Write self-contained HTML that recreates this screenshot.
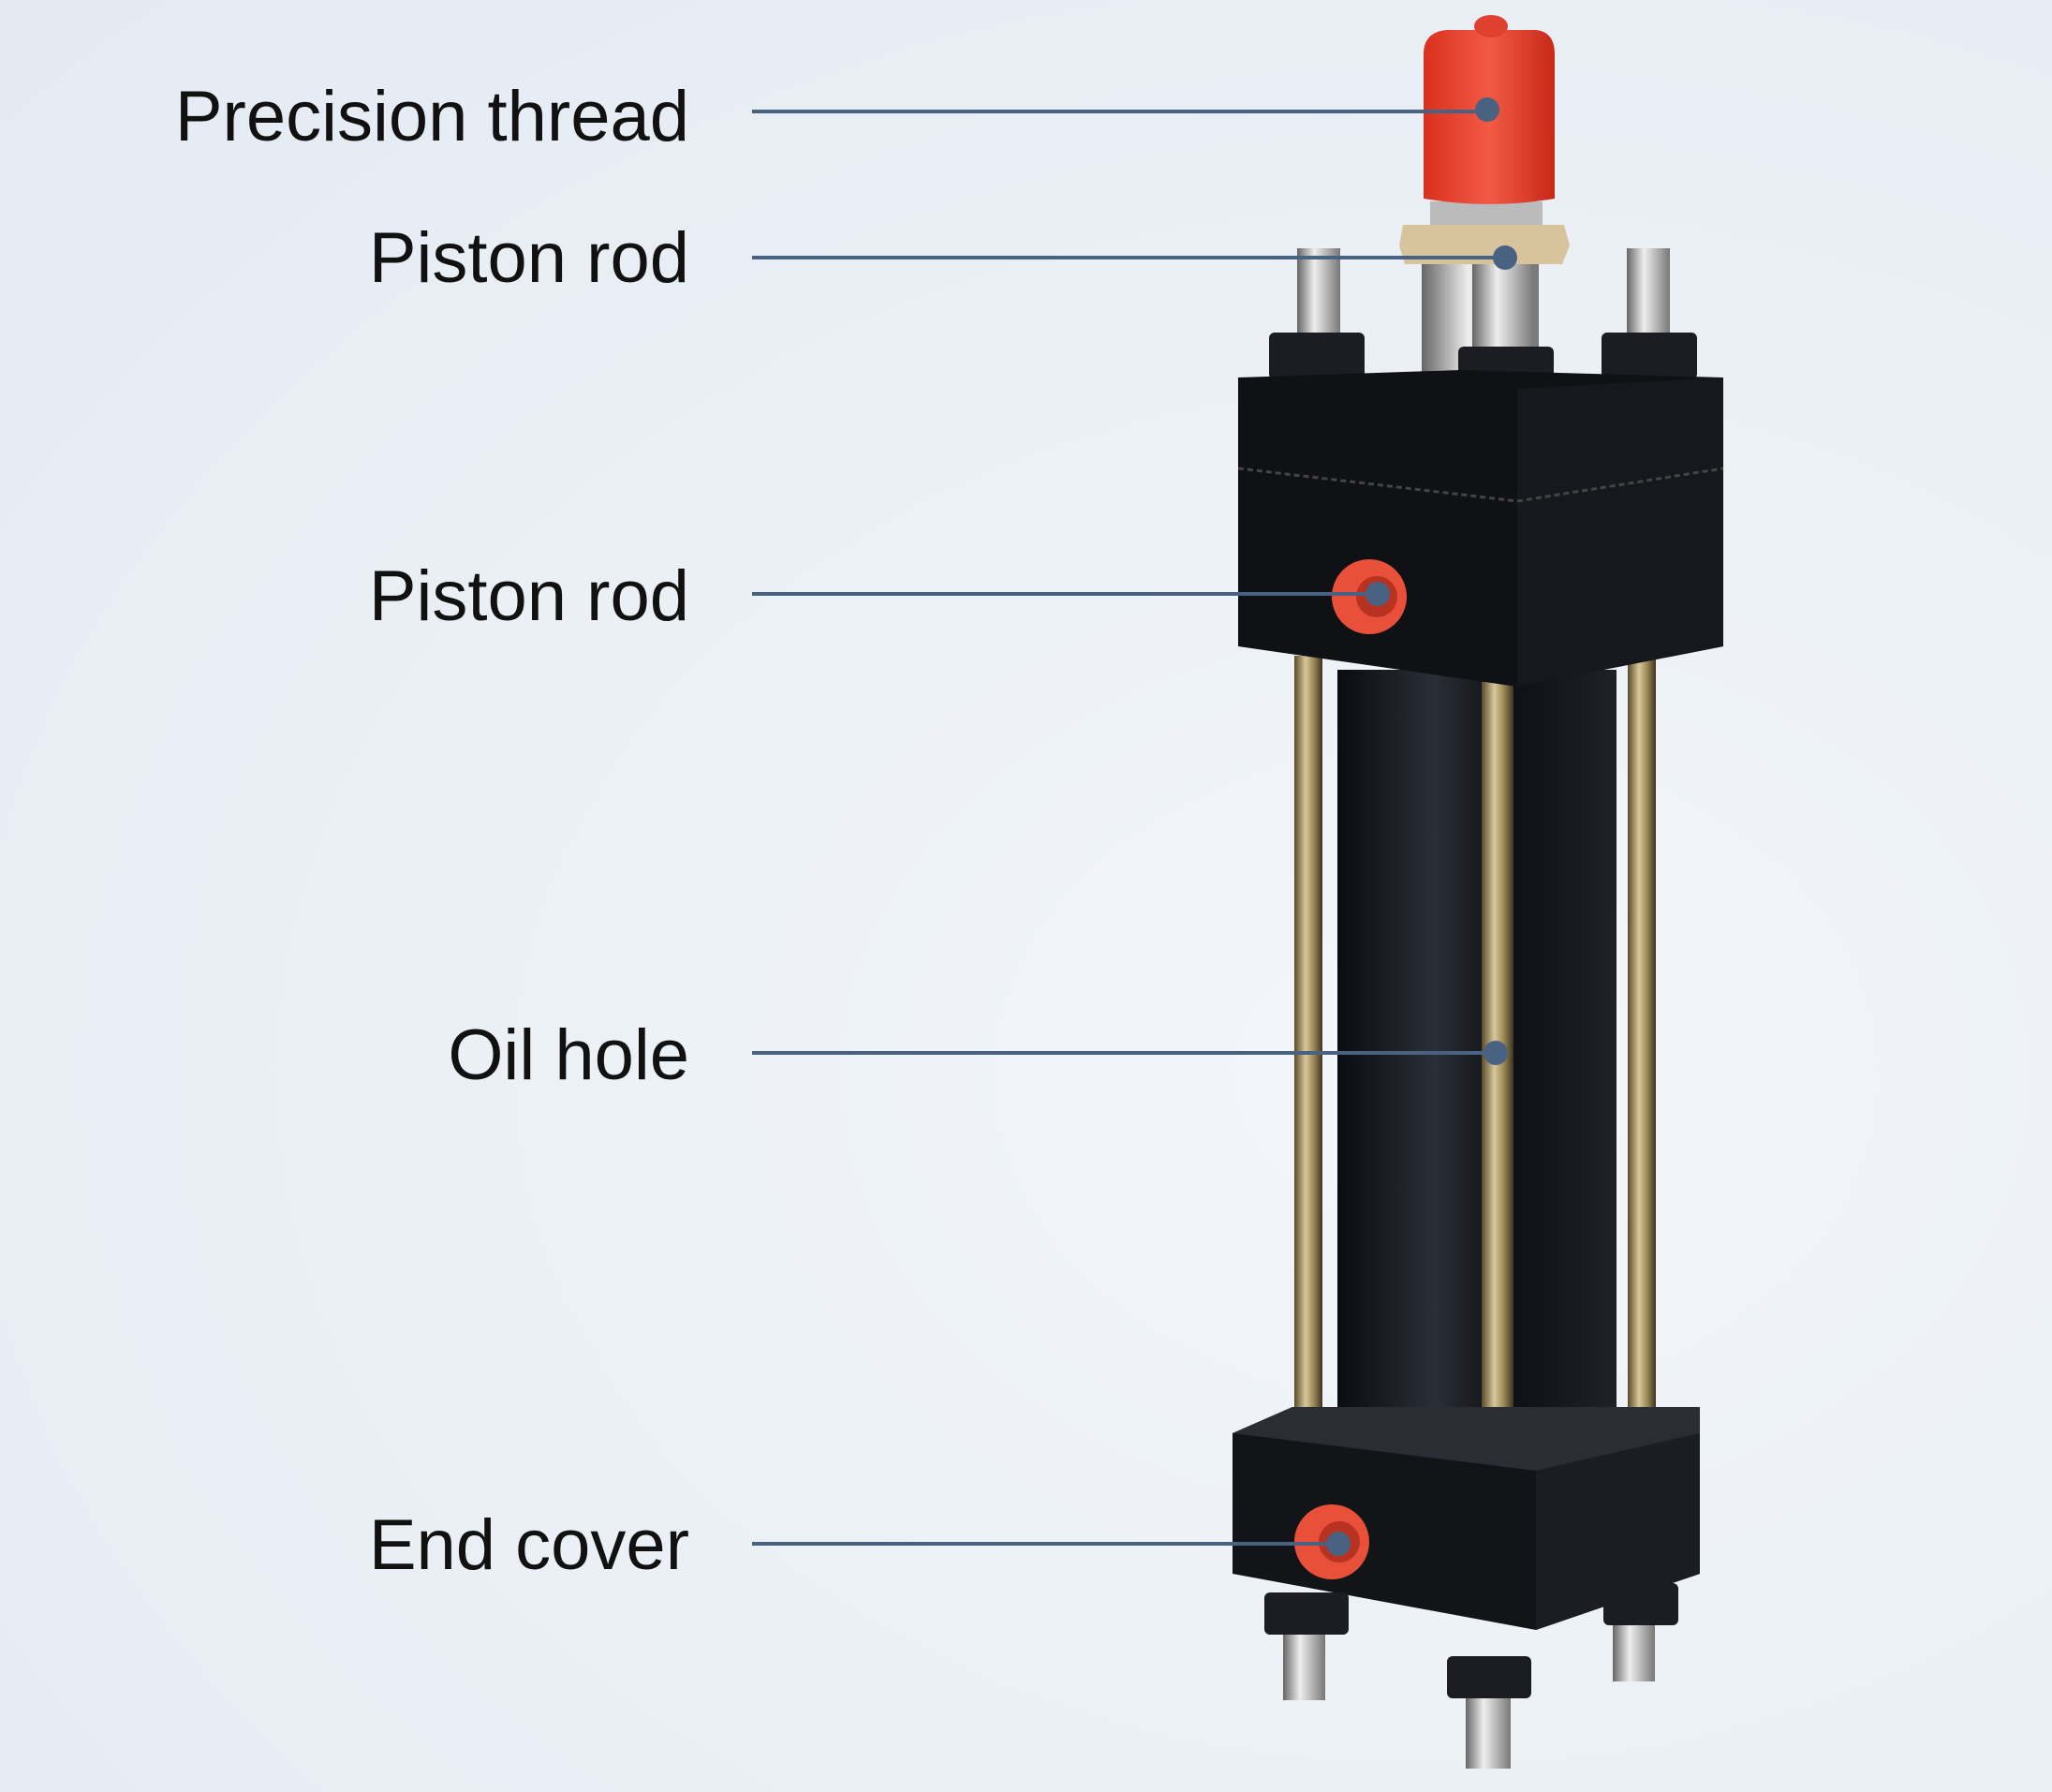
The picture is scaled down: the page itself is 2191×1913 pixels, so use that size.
<!DOCTYPE html>
<html><head><meta charset="utf-8"><style>
html,body{margin:0;padding:0}
body{width:2191px;height:1913px;position:relative;overflow:hidden;background:radial-gradient(ellipse at 70% 60%,#f3f6fa 0%,#e9eff5 60%,#e3eaf2 100%);font-family:"Liberation Sans",sans-serif}
.l{position:absolute;right:1455px;font-size:76px;color:#111;line-height:1;white-space:nowrap}
</style></head><body>
<svg width="2191" height="1913" style="position:absolute;left:0;top:0">
<defs>
<linearGradient id="rod" x1="0" x2="1"><stop offset="0" stop-color="#5a4a2a"/><stop offset=".4" stop-color="#d8c89a"/><stop offset=".7" stop-color="#9a8656"/><stop offset="1" stop-color="#3d3320"/></linearGradient>
<linearGradient id="tube" x1="0" x2="1"><stop offset="0" stop-color="#0a0c10"/><stop offset=".35" stop-color="#2a2e36"/><stop offset=".6" stop-color="#0d0f13"/><stop offset="1" stop-color="#1e2128"/></linearGradient>
<linearGradient id="steel" x1="0" x2="1"><stop offset="0" stop-color="#666"/><stop offset=".4" stop-color="#eee"/><stop offset="1" stop-color="#777"/></linearGradient>
<linearGradient id="red" x1="0" x2="1"><stop offset="0" stop-color="#d9301f"/><stop offset=".5" stop-color="#f25a45"/><stop offset="1" stop-color="#c82818"/></linearGradient>
</defs>
<rect x="1428" y="715" width="298" height="880" fill="url(#tube)"/>
<rect x="1382" y="700" width="30" height="840" fill="url(#rod)"/>
<rect x="1582" y="720" width="34" height="880" fill="url(#rod)"/>
<rect x="1738" y="700" width="30" height="840" fill="url(#rod)"/>
<rect x="1385" y="265" width="46" height="110" fill="url(#steel)"/>
<rect x="1737" y="265" width="46" height="110" fill="url(#steel)"/>
<rect x="1518" y="280" width="125" height="130" fill="url(#steel)"/>
<rect x="1572" y="270" width="66" height="130" fill="url(#steel)"/>
<rect x="1527" y="215" width="120" height="25" fill="#bbb"/>
<polygon points="1498,240 1670,240 1676,262 1668,282 1500,282 1494,262" fill="#d8c49c"/>
<path d="M1520,212 L1520,58 Q1520,34 1545,32 L1640,32 Q1660,34 1660,58 L1660,212 Q1590,224 1520,212Z" fill="url(#red)"/>
<ellipse cx="1592" cy="28" rx="18" ry="12" fill="#e04030"/>
<rect x="1355" y="355" width="102" height="50" rx="6" fill="#1b1d22"/>
<rect x="1557" y="370" width="102" height="50" rx="6" fill="#1b1d22"/>
<rect x="1710" y="355" width="102" height="50" rx="6" fill="#1b1d22"/>
<polygon points="1322,403 1560,395 1840,403 1840,690 1620,733 1322,690" fill="#0f1115"/>
<polygon points="1620,415 1840,403 1840,690 1620,733" fill="#15181d"/>
<line x1="1322" y1="500" x2="1620" y2="535" stroke="#444" stroke-width="3" stroke-dasharray="6 4"/>
<line x1="1620" y1="535" x2="1840" y2="500" stroke="#444" stroke-width="3" stroke-dasharray="6 4"/>
<circle cx="1462" cy="637" r="40" fill="#e8503a"/><circle cx="1470" cy="637" r="22" fill="#b83222"/>
<polygon points="1316,1530 1380,1502 1815,1502 1815,1680 1640,1740 1316,1680" fill="#121418"/>
<polygon points="1316,1530 1380,1502 1815,1502 1815,1530 1640,1570" fill="#2a2d33"/>
<polygon points="1640,1570 1815,1530 1815,1680 1640,1740" fill="#1a1d22"/>
<circle cx="1422" cy="1646" r="40" fill="#e8503a"/><circle cx="1430" cy="1646" r="22" fill="#b83222"/>
<rect x="1350" y="1700" width="90" height="45" rx="6" fill="#1b1d22"/>
<rect x="1370" y="1745" width="45" height="70" fill="url(#steel)"/>
<rect x="1712" y="1690" width="80" height="45" rx="6" fill="#1b1d22"/>
<rect x="1722" y="1735" width="45" height="60" fill="url(#steel)"/>
<rect x="1545" y="1768" width="90" height="45" rx="6" fill="#1b1d22"/>
<rect x="1565" y="1813" width="48" height="75" fill="url(#steel)"/>
<g stroke="#4a6282" stroke-width="4" fill="#4a6282">
<line x1="803" y1="119" x2="1588" y2="119"/><circle cx="1588" cy="117" r="13" stroke="none"/>
<line x1="803" y1="275" x2="1607" y2="275"/><circle cx="1607" cy="275" r="13" stroke="none"/>
<line x1="803" y1="634" x2="1471" y2="634"/><circle cx="1471" cy="634" r="13" stroke="none"/>
<line x1="803" y1="1124" x2="1597" y2="1124"/><circle cx="1597" cy="1124" r="13" stroke="none"/>
<line x1="803" y1="1648" x2="1429" y2="1648"/><circle cx="1429" cy="1648" r="13" stroke="none"/>
</g>
</svg>
<div class="l" style="top:87px">Precision thread</div>
<div class="l" style="top:238px">Piston rod</div>
<div class="l" style="top:599px">Piston rod</div>
<div class="l" style="top:1089px">Oil hole</div>
<div class="l" style="top:1612px">End cover</div>
</body></html>
